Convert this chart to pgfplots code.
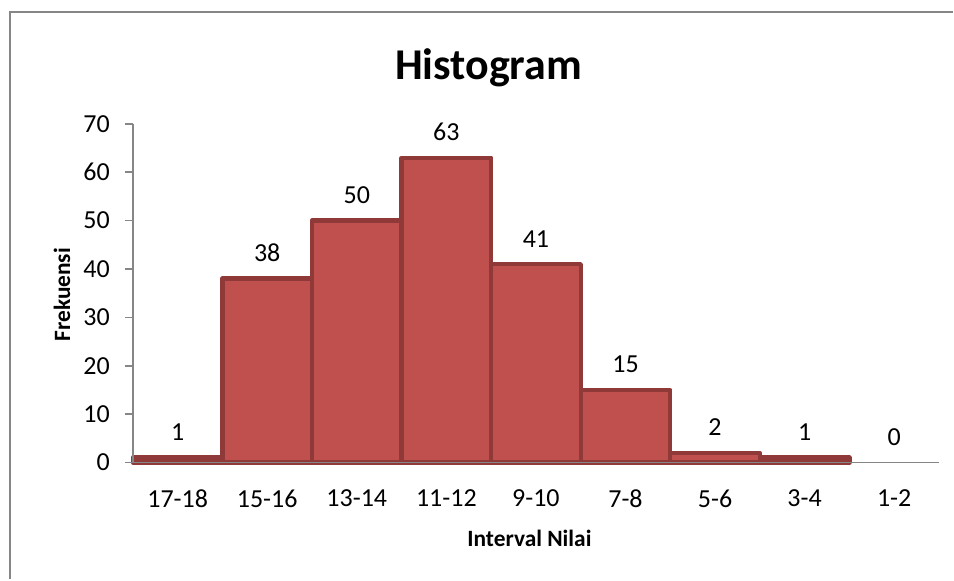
\documentclass[border=0pt]{standalone}
\usepackage{pgfplots}
\pgfplotsset{compat=1.18}
\usepackage{fontspec}
\setmainfont{Carlito}
\definecolor{barfill}{HTML}{C0504D}
\definecolor{barline}{HTML}{8F3A38}
\definecolor{axgray}{HTML}{868686}
\newcommand{\tickfont}{\fontsize{13}{15}\selectfont}
\begin{document}
\begin{tikzpicture}
\path (0,0) rectangle (477pt,-290pt);
\draw[axgray, line width=1pt] (5pt,-290pt) -- (5pt,-6pt) -- (477pt,-6pt);
\begin{axis}[
 at={(66.5pt,-231.5pt)}, anchor=south west,
 scale only axis, width=403.5pt, height=169.5pt,
 xmin=-0.5, xmax=8.5, ymin=0, ymax=70,
 axis lines*=left, axis line style={axgray, line width=0.75pt, -},
 xtick={0,...,8}, xticklabels={17-18,15-16,13-14,11-12,9-10,7-8,5-6,3-4,1-2},
 ytick={0,10,...,70},
 major x tick style={draw=none},
 major y tick style={axgray, line width=0.75pt},
 tick align=outside, major tick length=4pt,
 ticklabel style={font=\tickfont},
 /pgf/number format/assume math mode=true,
 xticklabel style={yshift=-6pt},
 yticklabel style={xshift=-4pt},
 axis on top,
 clip=false,
]
\addplot[ybar, bar width=1, bar shift=0pt, fill=barfill, draw=barline, line width=2.2pt, line join=round,
 nodes near coords, nodes near coords align={anchor=center, yshift=12.75pt},
 every node near coord/.append style={font=\tickfont, text=black}]
 coordinates {(0,1)(1,38)(2,50)(3,63)(4,41)(5,15)(6,2)(7,1)};
\addplot[ybar, bar width=1, bar shift=0pt, draw=none, fill=none,
 nodes near coords, nodes near coords align={anchor=center, yshift=12.75pt},
 every node near coord/.append style={font=\tickfont, text=black}]
 coordinates {(8,0)};
\end{axis}
\node[font=\fontsize{22}{26}\selectfont\bfseries] at (244.5pt,-34pt) {Histogram};
\node[font=\fontsize{11.7}{14}\selectfont\bfseries] at (265pt,-269.5pt) {Interval Nilai};
\node[font=\fontsize{11.7}{14}\selectfont\bfseries, rotate=90] at (31pt,-147.5pt) {Frekuensi};
\end{tikzpicture}
\end{document}
